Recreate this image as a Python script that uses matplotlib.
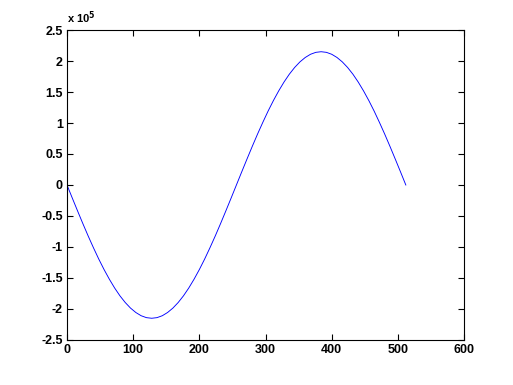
import numpy as np
import matplotlib.pyplot as plt
from matplotlib.ticker import FuncFormatter

# samples, every 8 units from 0 to 512 (values x 1e5)
x = np.arange(0, 513, 8)
half = [0, 0.211, 0.419, 0.624, 0.823, 1.013, 1.195, 1.364, 1.520, 1.662,
        1.788, 1.896, 1.986, 2.057, 2.109, 2.140, 2.150]
quarter_up = half
quarter_down = half[::-1][1:]
neg = [-v for v in quarter_up + quarter_down]
pos = [v for v in quarter_up[1:] + quarter_down]
y = np.array(neg + pos) * 1e5

xticks = [0, 100, 200, 300, 400, 500, 600]
yticks = [-2.5, -2, -1.5, -1, -0.5, 0, 0.5, 1, 1.5, 2, 2.5]

plt.rcParams['font.family'] = ['Liberation Sans', 'DejaVu Sans']

fig = plt.figure(figsize=(5.13, 3.85), dpi=100)
ax = fig.add_axes([0.1306, 0.117, 0.774, 0.805])
ax.plot(x, y, color='#0000ff', lw=0.65)

ax.set_xlim(0, 600)
ax.set_ylim(-2.5e5, 2.5e5)
ax.set_xticks(xticks)
ax.set_yticks([v * 1e5 for v in yticks])
ax.yaxis.set_major_formatter(FuncFormatter(lambda v, p: '%g' % (v / 1e5)))
ax.tick_params(direction='in', top=True, right=True, length=4, width=0.8,
               labelsize=9, pad=3)
for lab in ax.get_xticklabels() + ax.get_yticklabels():
    lab.set_fontweight('bold')
for s in ax.spines.values():
    s.set_linewidth(0.8)

ax.text(0.0, 1.012, r'x 10$^{\mathbf{5}}$', transform=ax.transAxes, fontsize=8,
        fontweight='bold', ha='left', va='bottom')

fig.savefig('out.png', dpi=100)
